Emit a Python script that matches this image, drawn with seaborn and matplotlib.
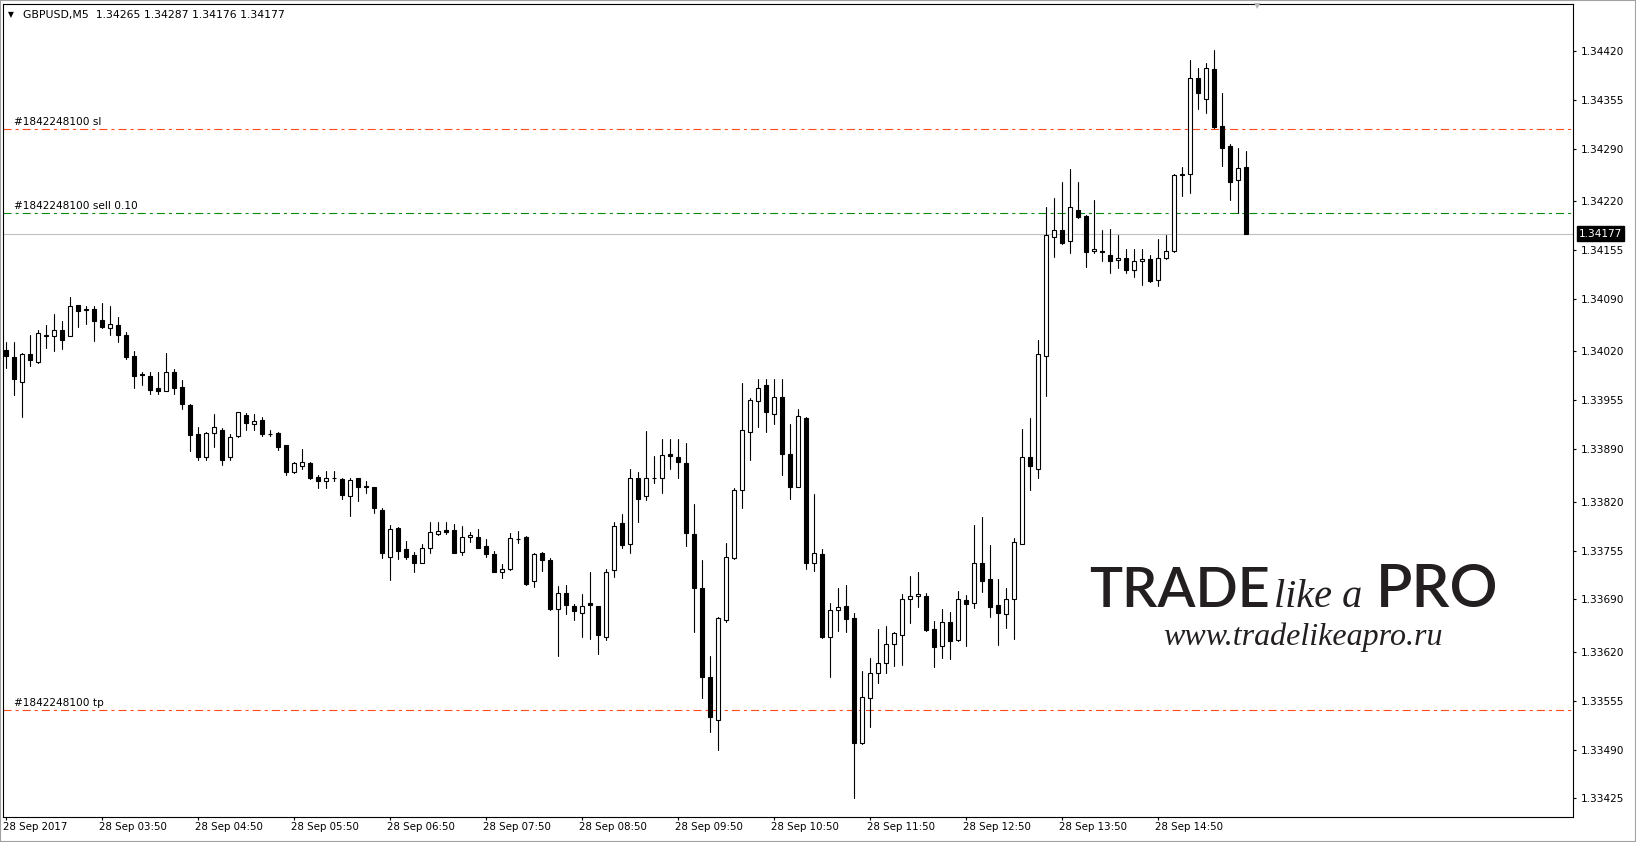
import numpy as np
import pandas as pd
import matplotlib
matplotlib.use("Agg")
import matplotlib.pyplot as plt
import matplotlib.transforms as mtransforms
from matplotlib.patches import Rectangle
import seaborn as sns

# ---------------- data ----------------
title_text = "GBPUSD,M5  1.34265 1.34287 1.34176 1.34177"

opens = [
    1.34022, 1.34013, 1.33980, 1.34017, 1.34006, 1.34041, 1.34040, 1.34049, 1.34041, 1.34082, 1.34075, 1.34077,
    1.34062, 1.34051, 1.34055, 1.34042, 1.34014, 1.33990, 1.33987, 1.33971, 1.33968, 1.33992, 1.33973, 1.33949,
    1.33910, 1.33880, 1.33911, 1.33916, 1.33880, 1.33907, 1.33935, 1.33924, 1.33929, 1.33910, 1.33912, 1.33895,
    1.33860, 1.33868, 1.33872, 1.33853, 1.33848, 1.33852, 1.33850, 1.33828, 1.33851, 1.33841, 1.33839, 1.33809,
    1.33746, 1.33785, 1.33757, 1.33749, 1.33738, 1.33758, 1.33777, 1.33782, 1.33782, 1.33753, 1.33773, 1.33773,
    1.33761, 1.33750, 1.33727, 1.33730, 1.33770, 1.33773, 1.33714, 1.33752, 1.33742, 1.33677, 1.33698, 1.33681,
    1.33672, 1.33685, 1.33681, 1.33640, 1.33729, 1.33791, 1.33764, 1.33852, 1.33827, 1.33852, 1.33851, 1.33883,
    1.33879, 1.33872, 1.33777, 1.33705, 1.33586, 1.33530, 1.33663, 1.33745, 1.33836, 1.33913, 1.33954, 1.33975,
    1.33937, 1.33960, 1.33883, 1.33840, 1.33932, 1.33738, 1.33750, 1.33640, 1.33676, 1.33681, 1.33665, 1.33499,
    1.33558, 1.33592, 1.33605, 1.33630, 1.33642, 1.33690, 1.33694, 1.33694, 1.33650, 1.33628, 1.33660, 1.33636,
    1.33689, 1.33685, 1.33739, 1.33717, 1.33682, 1.33671, 1.33691, 1.33764, 1.33879, 1.33864, 1.34014, 1.34172,
    1.34182, 1.34167, 1.34209, 1.34200, 1.34154, 1.34154, 1.34148, 1.34142, 1.34145, 1.34129, 1.34140, 1.34143,
    1.34115, 1.34144, 1.34154, 1.34255, 1.34256, 1.34384, 1.34356, 1.34396, 1.34320, 1.34293, 1.34248, 1.34265,
]
highs = [
    1.34033, 1.34032, 1.34018, 1.34042, 1.34049, 1.34055, 1.34070, 1.34060, 1.34093, 1.34082, 1.34081, 1.34080,
    1.34085, 1.34081, 1.34066, 1.34046, 1.34020, 1.33992, 1.33992, 1.33993, 1.34018, 1.33997, 1.33982, 1.33950,
    1.33919, 1.33913, 1.33937, 1.33918, 1.33910, 1.33940, 1.33938, 1.33937, 1.33933, 1.33916, 1.33913, 1.33896,
    1.33873, 1.33890, 1.33873, 1.33856, 1.33861, 1.33861, 1.33851, 1.33852, 1.33852, 1.33847, 1.33840, 1.33812,
    1.33789, 1.33786, 1.33768, 1.33753, 1.33763, 1.33793, 1.33793, 1.33793, 1.33790, 1.33788, 1.33780, 1.33784,
    1.33770, 1.33754, 1.33737, 1.33778, 1.33781, 1.33774, 1.33752, 1.33753, 1.33745, 1.33708, 1.33709, 1.33684,
    1.33697, 1.33726, 1.33681, 1.33731, 1.33793, 1.33804, 1.33863, 1.33860, 1.33914, 1.33881, 1.33903, 1.33904,
    1.33903, 1.33898, 1.33817, 1.33742, 1.33615, 1.33666, 1.33765, 1.33838, 1.33978, 1.33958, 1.33984, 1.33983,
    1.33984, 1.33984, 1.33923, 1.33944, 1.33933, 1.33830, 1.33757, 1.33685, 1.33705, 1.33709, 1.33672, 1.33594,
    1.33612, 1.33651, 1.33655, 1.33646, 1.33697, 1.33721, 1.33726, 1.33698, 1.33661, 1.33677, 1.33673, 1.33701,
    1.33696, 1.33789, 1.33799, 1.33762, 1.33717, 1.33705, 1.33772, 1.33917, 1.33932, 1.34035, 1.34212, 1.34224,
    1.34245, 1.34263, 1.34245, 1.34202, 1.34222, 1.34182, 1.34183, 1.34175, 1.34157, 1.34156, 1.34156, 1.34148,
    1.34170, 1.34175, 1.34256, 1.34265, 1.34408, 1.34398, 1.34404, 1.34421, 1.34364, 1.34296, 1.34291, 1.34287,
]
lows = [
    1.33998, 1.33962, 1.33933, 1.34000, 1.34004, 1.34024, 1.34021, 1.34023, 1.34040, 1.34052, 1.34057, 1.34034,
    1.34051, 1.34042, 1.34033, 1.34010, 1.33971, 1.33976, 1.33963, 1.33964, 1.33967, 1.33964, 1.33943, 1.33887,
    1.33875, 1.33876, 1.33893, 1.33869, 1.33876, 1.33906, 1.33916, 1.33916, 1.33907, 1.33908, 1.33889, 1.33856,
    1.33858, 1.33864, 1.33850, 1.33838, 1.33838, 1.33847, 1.33824, 1.33801, 1.33821, 1.33832, 1.33805, 1.33745,
    1.33716, 1.33744, 1.33744, 1.33726, 1.33738, 1.33752, 1.33776, 1.33777, 1.33752, 1.33749, 1.33766, 1.33758,
    1.33747, 1.33726, 1.33718, 1.33729, 1.33765, 1.33709, 1.33707, 1.33728, 1.33676, 1.33615, 1.33670, 1.33662,
    1.33640, 1.33637, 1.33617, 1.33636, 1.33720, 1.33758, 1.33752, 1.33793, 1.33822, 1.33845, 1.33832, 1.33863,
    1.33851, 1.33761, 1.33646, 1.33558, 1.33514, 1.33489, 1.33660, 1.33744, 1.33812, 1.33876, 1.33920, 1.33913,
    1.33924, 1.33855, 1.33823, 1.33839, 1.33731, 1.33728, 1.33639, 1.33587, 1.33648, 1.33646, 1.33426, 1.33498,
    1.33520, 1.33578, 1.33592, 1.33601, 1.33603, 1.33659, 1.33680, 1.33648, 1.33600, 1.33612, 1.33611, 1.33635,
    1.33628, 1.33678, 1.33700, 1.33667, 1.33629, 1.33652, 1.33637, 1.33763, 1.33835, 1.33852, 1.33961, 1.34146,
    1.34163, 1.34151, 1.34198, 1.34133, 1.34151, 1.34140, 1.34124, 1.34131, 1.34125, 1.34119, 1.34108, 1.34112,
    1.34107, 1.34143, 1.34153, 1.34227, 1.34231, 1.34343, 1.34337, 1.34318, 1.34267, 1.34221, 1.34205, 1.34176,
]
closes = [
    1.34014, 1.33983, 1.34017, 1.34009, 1.34044, 1.34042, 1.34049, 1.34035, 1.34081, 1.34074, 1.34076, 1.34060,
    1.34053, 1.34057, 1.34042, 1.34013, 1.33987, 1.33989, 1.33969, 1.33968, 1.33992, 1.33972, 1.33950, 1.33909,
    1.33880, 1.33911, 1.33919, 1.33876, 1.33906, 1.33939, 1.33925, 1.33928, 1.33910, 1.33910, 1.33893, 1.33860,
    1.33872, 1.33873, 1.33851, 1.33848, 1.33852, 1.33852, 1.33829, 1.33849, 1.33840, 1.33839, 1.33811, 1.33752,
    1.33784, 1.33754, 1.33747, 1.33739, 1.33758, 1.33779, 1.33781, 1.33780, 1.33752, 1.33773, 1.33776, 1.33758,
    1.33750, 1.33727, 1.33730, 1.33771, 1.33770, 1.33711, 1.33751, 1.33743, 1.33677, 1.33698, 1.33682, 1.33674,
    1.33681, 1.33682, 1.33642, 1.33726, 1.33788, 1.33762, 1.33852, 1.33824, 1.33852, 1.33851, 1.33882, 1.33881,
    1.33873, 1.33778, 1.33705, 1.33587, 1.33533, 1.33665, 1.33746, 1.33836, 1.33915, 1.33956, 1.33972, 1.33939,
    1.33960, 1.33884, 1.33840, 1.33934, 1.33738, 1.33752, 1.33640, 1.33676, 1.33680, 1.33664, 1.33499, 1.33560,
    1.33592, 1.33605, 1.33630, 1.33645, 1.33690, 1.33694, 1.33697, 1.33649, 1.33626, 1.33660, 1.33635, 1.33690,
    1.33684, 1.33738, 1.33715, 1.33680, 1.33672, 1.33690, 1.33766, 1.33880, 1.33868, 1.34017, 1.34175, 1.34182,
    1.34165, 1.34212, 1.34199, 1.34152, 1.34157, 1.34152, 1.34140, 1.34145, 1.34129, 1.34140, 1.34143, 1.34114,
    1.34144, 1.34154, 1.34255, 1.34256, 1.34384, 1.34364, 1.34397, 1.34319, 1.34291, 1.34245, 1.34264, 1.34177,
]

time_label_index = [0, 12, 24, 36, 48, 60, 72, 84, 96, 108, 120, 132, 144]
time_labels = ["28 Sep 2017", "28 Sep 03:50", "28 Sep 04:50", "28 Sep 05:50", "28 Sep 06:50",
               "28 Sep 07:50", "28 Sep 08:50", "28 Sep 09:50", "28 Sep 10:50", "28 Sep 11:50",
               "28 Sep 12:50", "28 Sep 13:50", "28 Sep 14:50"]
price_ticks = [1.34420, 1.34355, 1.34290, 1.34220, 1.34155, 1.34090, 1.34020, 1.33955,
               1.33890, 1.33820, 1.33755, 1.33690, 1.33620, 1.33555, 1.33490, 1.33425]

order_prices = [1.34316, 1.34204, 1.33543]
order_labels = ["#1842248100 sl", "#1842248100 sell 0.10", "#1842248100 tp"]
order_colors = ["#FF4A1C", "#0A8A0A", "#FF4A1C"]
last_price = 1.34177

# ---------------- style ----------------
sns.set_theme(style="white")
plt.rcParams["font.family"] = ["DejaVu Sans"]
plt.rcParams["lines.scale_dashes"] = False

W, H = 1636, 842
fig = plt.figure(figsize=(W / 100, H / 100), dpi=100)
fig.patch.set_facecolor("white")
ax = fig.add_axes([3 / W, 25 / H, 1570 / W, 813 / H])

df = pd.DataFrame({"open": opens, "high": highs, "low": lows, "close": closes})
df["idx"] = np.arange(len(df))
df["bull"] = df["close"] >= df["open"]
df["bottom"] = df[["open", "close"]].min(axis=1)
df["height"] = (df["close"] - df["open"]).abs()

# wicks via seaborn (one vertical segment per candle)
wicks = pd.concat([
    df[["idx"]].assign(price=df["low"]),
    df[["idx"]].assign(price=df["high"]),
]).sort_values(["idx", "price"])
sns.lineplot(data=wicks, x="idx", y="price", units="idx", estimator=None,
             sort=False, color="black", lw=0.8, ax=ax, zorder=3)

# bodies
ax.bar(df["idx"], df["height"], bottom=df["bottom"], width=0.55,
       color=np.where(df["bull"], "white", "black"), edgecolor="black",
       linewidth=0.8, zorder=4)

# order lines
ltrans = mtransforms.blended_transform_factory(ax.transAxes, ax.transData)
for p, lab, col in zip(order_prices, order_labels, order_colors):
    ax.axhline(p, color=col, lw=0.8, linestyle=(0, (5.8, 2.9, 2.2, 2.9)), zorder=2)
    ax.text(11 / 1570, p, lab, transform=ltrans + mtransforms.ScaledTranslation(0, 2 / 100, fig.dpi_scale_trans),
            ha="left", va="bottom", fontsize=7.6, color="black", zorder=5)
ax.axhline(last_price, color="#C0C0C0", lw=0.8, zorder=1)

ax.set_xlim(-0.375, 195.875)
ax.set_ylim(1.334002, 1.344826)
ax.set_xlabel("")
ax.set_ylabel("")

for s in ax.spines.values():
    s.set_visible(True)
    s.set_color("black")
    s.set_linewidth(0.8)

ax.yaxis.tick_right()
ax.set_yticks(price_ticks)
ax.set_yticklabels([f"{v:.5f}" for v in price_ticks])
ax.tick_params(axis="y", which="both", right=True, left=False, length=2.2, width=0.8,
               pad=3.6, labelsize=7.6, colors="black", direction="out")
ax.set_xticks(time_label_index)
ax.set_xticklabels(time_labels)
ax.tick_params(axis="x", bottom=True, length=2.2, width=0.8, pad=1.5, labelsize=7.4,
               colors="black", direction="out")
shift = mtransforms.ScaledTranslation(-3 / 100, 0, fig.dpi_scale_trans)
for t in ax.get_xticklabels():
    t.set_ha("left")
    t.set_transform(t.get_transform() + shift)
ax.grid(False)

# last price box on the axis
ax.text(1.0, last_price, f"{last_price:.5f}",
        transform=ltrans + mtransforms.ScaledTranslation(6 / 100, 0, fig.dpi_scale_trans),
        ha="left", va="center", fontsize=7.6, color="white", zorder=6, clip_on=False,
        bbox=dict(boxstyle="square,pad=0.2", fc="black", ec="black"))

# title
fig.text(8 / W, 1 - 15 / H, "\u25BC", fontsize=5.5, color="black", ha="left", va="center")
fig.text(23 / W, 1 - 15 / H, title_text, fontsize=7.8, color="black", ha="left", va="center")
fig.text(1257 / W, 1 - 6 / H, "\u25BC", fontsize=6, color="#B8B8B8", ha="center", va="center")

# watermark
base1 = 1 - 607 / H
fig.text(1089 / W, base1, "TRADE", fontsize=40, family="Lato", weight="semibold",
         color="#231F20", ha="left", va="baseline")
fig.text(1274 / W, base1, "like a", fontsize=29, family="Liberation Serif", style="italic",
         color="#231F20", ha="left", va="baseline")
fig.text(1376 / W, base1, "PRO", fontsize=43, family="Lato", weight="semibold",
         color="#231F20", ha="left", va="baseline")
fig.text(1163 / W, 1 - 645 / H, "www.tradelikeapro.ru", fontsize=23, family="Liberation Serif",
         style="italic", color="#231F20", ha="left", va="baseline")

# outer frame
fig.patches.append(Rectangle((0, 0), 1, 1, transform=fig.transFigure, fill=False,
                             ec="#A0A0A0", lw=1.5))

fig.savefig("out.png", dpi=100)
